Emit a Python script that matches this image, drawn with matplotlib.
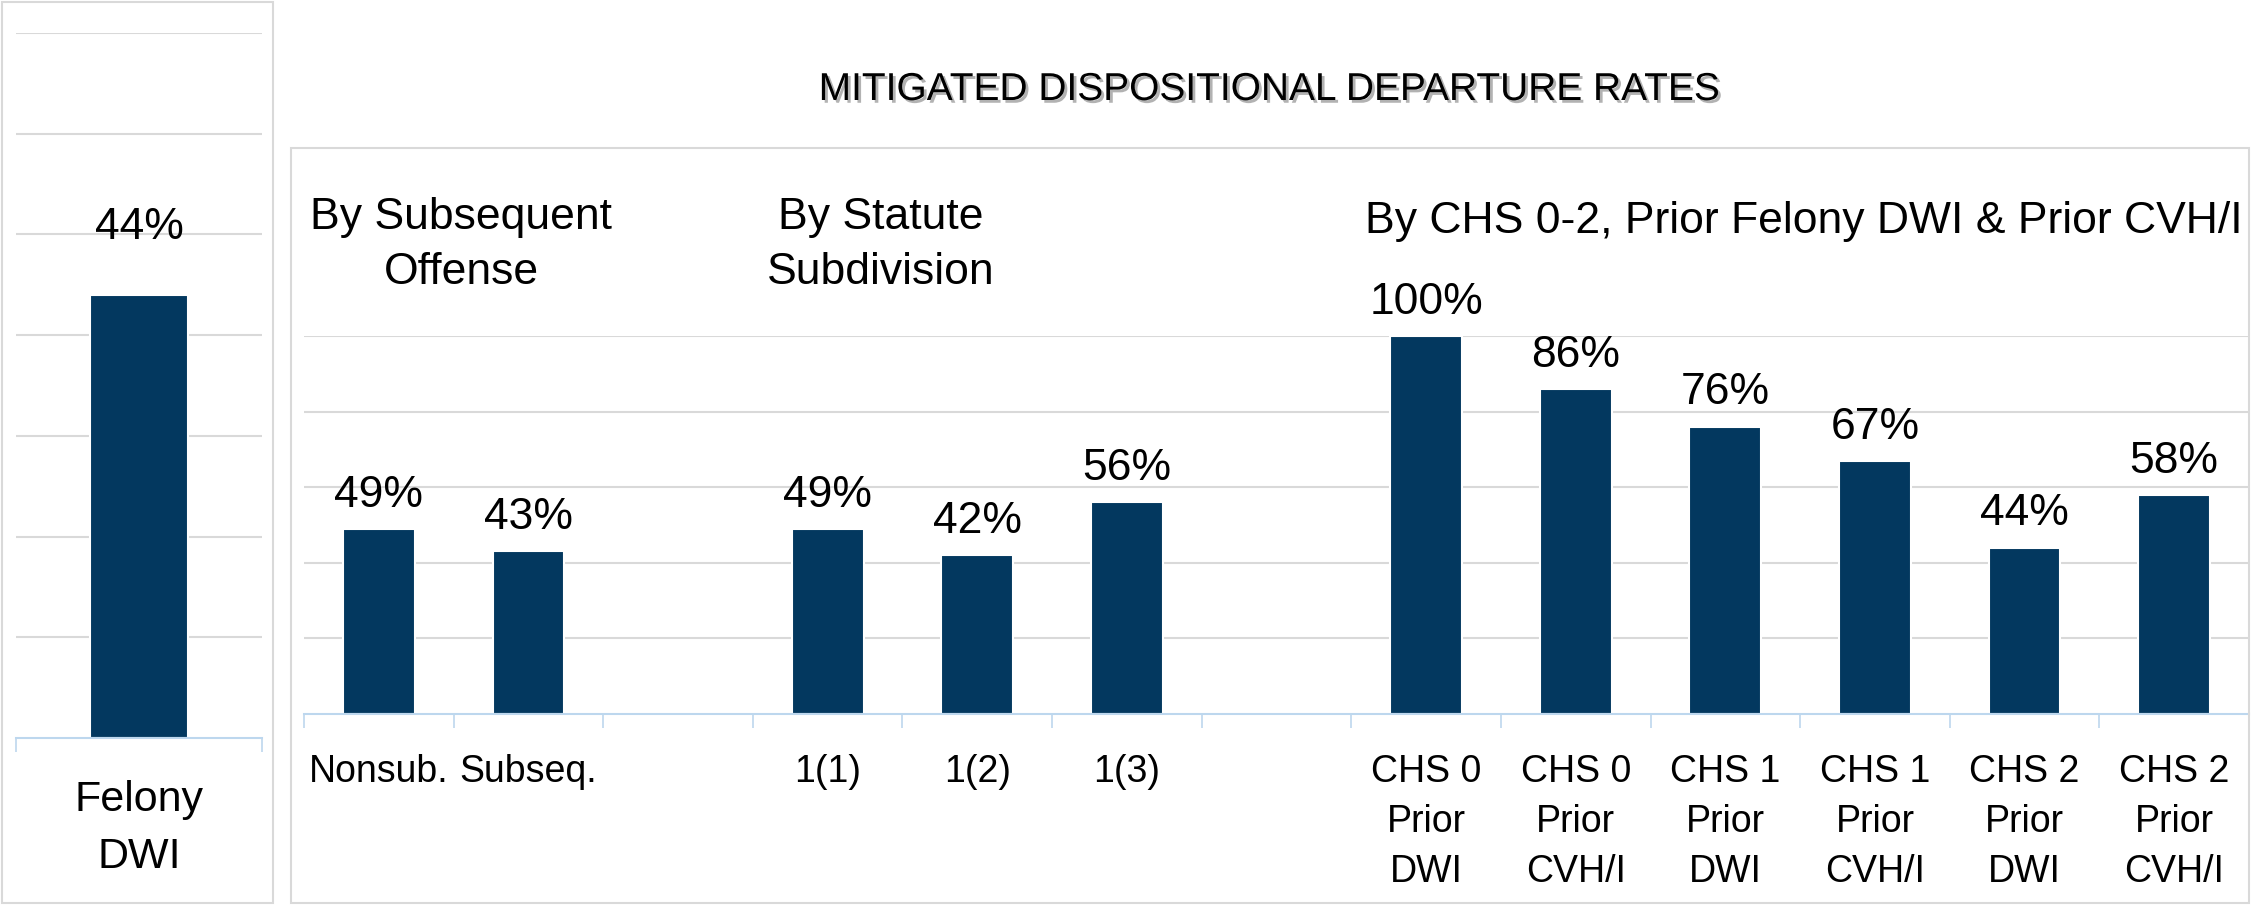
import numpy as np
import matplotlib
matplotlib.use('Agg')
import matplotlib.pyplot as plt
import matplotlib.patheffects as pe
from matplotlib import font_manager
from matplotlib.patches import Rectangle

# pick a narrow font if the system has one
font = 'Liberation Sans'
try:
    font_manager.findfont('Liberation Sans Narrow', fallback_to_default=False)
    font = 'Liberation Sans Narrow'
except Exception:
    pass
plt.rcParams['font.family'] = [font, 'DejaVu Sans']

# Data
title = 'MITIGATED DISPOSITIONAL DEPARTURE RATES'
left_cats = ['Felony\nDWI']
left_vals = [0.44]

right_cats = ['Nonsub.', 'Subseq.', '', '1(1)', '1(2)', '1(3)', '',
              'CHS 0\nPrior\nDWI', 'CHS 0\nPrior\nCVH/I', 'CHS 1\nPrior\nDWI',
              'CHS 1\nPrior\nCVH/I', 'CHS 2\nPrior\nDWI', 'CHS 2\nPrior\nCVH/I']
right_vals = [0.49, 0.43, np.nan, 0.49, 0.42, 0.56, np.nan,
              1.00, 0.86, 0.76, 0.67, 0.44, 0.58]
group_titles = ['By Subsequent\nOffense', 'By Statute\nSubdivision',
                'By CHS 0-2, Prior Felony DWI & Prior CVH/I']

W, H = 2252, 906
BAR = '#03385F'
GRID = '#D9D9D9'
AXC = '#BDD7EE'

fig = plt.figure(figsize=(W / 100, H / 100), dpi=100)


def px_axes(x0, y_top, x1, y_bot):
    return fig.add_axes([x0 / W, 1 - y_bot / H, (x1 - x0) / W, (y_bot - y_top) / H])


def style(ax, n, ymax, step, labsize, pad):
    ax.set_xlim(-0.5, n - 0.5)
    ax.set_ylim(0, ymax)
    ax.set_yticks(np.arange(step, ymax + 1e-9, step))
    ax.yaxis.grid(True, color=GRID, lw=1.5)
    ax.set_axisbelow(True)
    for s in ['top', 'left', 'right']:
        ax.spines[s].set_visible(False)
    ax.spines['bottom'].set_color(AXC)
    ax.spines['bottom'].set_linewidth(1.5)
    ax.tick_params(axis='y', length=0, labelleft=False)
    ax.set_xticks(np.arange(-0.5, n, 1), minor=True)
    ax.tick_params(axis='x', which='minor', length=10, width=1.2, color=AXC, direction='out')
    ax.tick_params(axis='x', which='major', length=0, labelsize=labsize, pad=pad)


# left panel
axl = px_axes(16, 33, 262, 738)
xl = np.arange(len(left_cats))
axl.bar(xl, left_vals, width=0.4, color=BAR, edgecolor='white', lw=1.5)
style(axl, len(left_cats), 0.7, 0.1, 31, 30)
axl.set_xticks(xl)
axl.set_xticklabels(left_cats, linespacing=1.55)
for x, v in zip(xl, left_vals):
    axl.annotate(f'{v:.0%}', (x, v), xytext=(0, 40), textcoords='offset points',
                 ha='center', va='baseline', fontsize=32)

# right panel
axr = px_axes(304, 336, 2249, 714)
xr = np.arange(len(right_cats))
vals = np.array(right_vals)
ok = ~np.isnan(vals)
axr.bar(xr[ok], vals[ok], width=0.48, color=BAR, edgecolor='white', lw=1.5)
style(axr, len(right_cats), 1.0, 0.2, 27, 29)
axr.set_xticks(xr)
axr.set_xticklabels(right_cats, linespacing=1.5)
for x, v in zip(xr[ok], vals[ok]):
    axr.annotate(f'{v:.0%}', (x, v), xytext=(0, 16), textcoords='offset points',
                 ha='center', va='baseline', fontsize=32)

# group headings
fig.text(461 / W, 1 - 245 / H, group_titles[0], ha='center', va='center',
         fontsize=32, linespacing=1.45)
fig.text(881 / W, 1 - 245 / H, group_titles[1], ha='center', va='center',
         fontsize=32, linespacing=1.45)
fig.text(1804 / W, 1 - 222 / H, group_titles[2], ha='center', va='center', fontsize=32)

# title with shadow
fig.text(1269 / W, 1 - 90 / H, title, ha='center', va='center', fontsize=28,
         path_effects=[pe.withSimplePatchShadow(offset=(2, -2), shadow_rgbFace='#7f7f7f', alpha=0.6)])

# panel frames
for x0, y0, x1, y1 in [(2, 2, 273, 903), (291, 148, 2249, 903)]:
    fig.patches.append(Rectangle((x0 / W, 1 - y1 / H), (x1 - x0) / W, (y1 - y0) / H,
                                 fill=False, ec=GRID, lw=1.5, transform=fig.transFigure, figure=fig))

fig.savefig('out.png', dpi=100)
